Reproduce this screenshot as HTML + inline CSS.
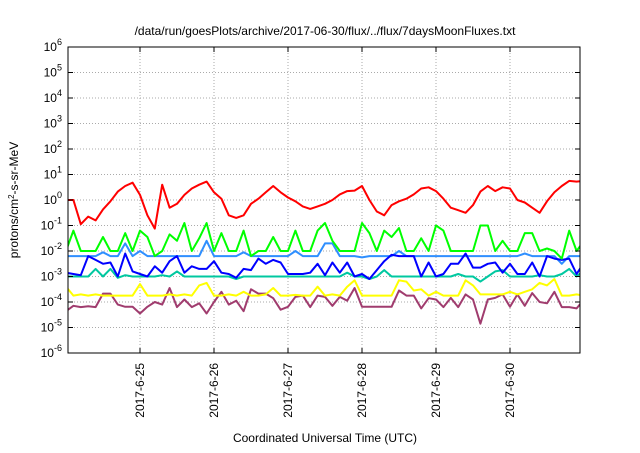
<!DOCTYPE html>
<html><head><meta charset="utf-8"><style>
body{margin:0;background:#fff;width:640px;height:448px;overflow:hidden;font-family:"Liberation Sans",sans-serif}
svg text{font-family:"Liberation Sans",sans-serif;fill:#000}
</style></head><body>
<svg id="chart" width="640" height="448" xmlns="http://www.w3.org/2000/svg">
<text x="325" y="35" font-size="12" text-anchor="middle">/data/run/goesPlots/archive/2017-06-30/flux/../flux/7daysMoonFluxes.txt</text>
<text transform="translate(18,200) rotate(-90)" font-size="12" text-anchor="middle">protons/cm<tspan dy="-4" font-size="8">2</tspan><tspan dy="4">-s-sr-MeV</tspan></text>
<text x="325" y="442" font-size="12" text-anchor="middle">Coordinated Universal Time (UTC)</text>
<g id="grid"></g><g id="series"></g><g id="axes"></g>
</svg>
<script>
const dayTicks = [25, 26, 27, 28, 29, 30];
const dayLabels = ["2017-6-25","2017-6-26","2017-6-27","2017-6-28","2017-6-29","2017-6-30"];
const yExponents = [-6,-5,-4,-3,-2,-1,0,1,2,3,4,5,6];
const startDay = 24.0;
const stepDay = 0.1;
const redLog = [0,0,-0.95,-0.65,-0.8,-0.37,-0.05,0.33,0.55,0.68,0.2,-0.6,-1.12,0.6,-0.3,-0.15,0.2,0.45,0.6,0.72,0.3,0.05,-0.6,-0.7,-0.6,-0.15,0.05,0.3,0.55,0.3,0.1,-0.05,-0.25,-0.35,-0.25,-0.15,0,0.22,0.35,0.37,0.55,0,-0.45,-0.6,-0.2,-0.05,0.05,0.22,0.45,0.5,0.35,0.05,-0.3,-0.4,-0.5,-0.2,0.33,0.55,0.35,0.5,0.45,0,-0.1,-0.3,-0.5,-0.05,0.3,0.55,0.75,0.72,0.75];
const greenLog = [-2,-1.2,-2,-2,-2,-1.45,-2,-2,-1.3,-2,-1.2,-1.45,-2.2,-2,-1.35,-1.6,-0.9,-2,-1.5,-0.9,-2,-1.3,-2,-2,-1.2,-2.2,-2,-2,-1.45,-2,-2,-1.2,-2,-2,-1.2,-0.9,-1.6,-2,-2,-2,-0.9,-1.3,-2,-1.2,-1.45,-1.1,-2,-2,-1.5,-2,-1.0,-1.2,-2,-2,-2,-2,-1.0,-1.0,-2,-1.6,-2,-2,-1.3,-1.3,-2,-1.9,-2,-2.3,-1.2,-2.0,-1.6];
const skyLog = [-2.2,-2.2,-2.2,-2.2,-2.2,-2.05,-2.2,-2.2,-1.7,-2.2,-2.0,-2.2,-2.2,-2.2,-2.2,-2.2,-2.2,-2.2,-2.2,-1.6,-2.2,-2.2,-2.2,-2.2,-2.05,-2.2,-2.2,-2.2,-2.2,-2.2,-2.2,-2.0,-2.2,-2.2,-2.2,-1.7,-1.7,-2.2,-2.2,-2.2,-2.25,-2.2,-2.2,-2.2,-2.2,-2.0,-2.2,-2.2,-2.2,-2.2,-2.2,-2.2,-2.2,-2.2,-2.2,-2.2,-2.2,-2.2,-2.2,-2.2,-2.2,-2.2,-2.1,-2.2,-2.2,-2.2,-2.2,-2.5,-2.2,-2.2,-2.2];
const blueLog = [-2.85,-2.9,-2.95,-2.2,-2.35,-2.5,-2.45,-3.0,-2.1,-2.8,-2.9,-3.0,-2.6,-2.85,-2.4,-2.2,-2.85,-2.6,-2.7,-2.7,-2.4,-2.85,-2.9,-3.05,-2.7,-2.75,-2.3,-2.5,-2.35,-2.45,-2.9,-2.9,-2.9,-2.85,-2.5,-2.95,-2.45,-2.85,-2.45,-3.0,-2.9,-3.1,-2.75,-2.4,-2.15,-2.2,-2.2,-2.2,-3.0,-2.45,-3.0,-2.9,-2.5,-2.5,-2.1,-2.65,-2.65,-2.5,-2.45,-2.85,-2.5,-2.9,-2.9,-2.45,-3.0,-2.2,-2.3,-2.35,-2.3,-2.9,-2.45];
const tealLog = [-3,-3,-3,-3,-2.7,-3,-2.7,-3.05,-2.95,-3,-3,-3,-3,-2.95,-3,-2.8,-3,-3,-3,-3,-3,-3,-3,-3.1,-3,-3,-3,-3,-3,-3,-3,-3,-3,-3,-3,-3,-3,-3,-2.85,-3,-3,-3.1,-3,-2.75,-3,-3,-3,-3,-3,-3,-3,-3,-3,-2.9,-3,-3,-3.2,-3,-2.8,-2.75,-3,-3.0,-3,-3,-2.95,-3,-3,-2.9,-2.7,-3.0,-2.75];
const yellowLog = [-3.4,-3.75,-3.7,-3.75,-3.7,-3.75,-3.75,-3.75,-3.75,-3.75,-3.3,-3.75,-3.75,-3.75,-3.7,-3.75,-3.7,-3.75,-3.35,-3.25,-3.75,-3.75,-3.7,-3.75,-3.6,-3.75,-3.75,-3.7,-3.45,-3.75,-3.75,-3.72,-3.75,-3.75,-3.4,-3.75,-3.7,-3.75,-3.4,-3.15,-3.75,-3.75,-3.75,-3.75,-3.75,-3.15,-3.2,-3.55,-3.5,-3.75,-3.6,-3.75,-3.75,-3.75,-3.15,-3.35,-3.7,-3.7,-3.7,-3.7,-3.6,-3.7,-3.6,-3.5,-3.25,-3.35,-3.1,-3.75,-3.75,-3.7,-3.75];
const purpleLog = [-4.36,-4.15,-4.2,-4.17,-4.2,-3.67,-3.67,-4.1,-4.19,-4.19,-4.45,-4.19,-4.0,-4.1,-3.45,-4.2,-3.9,-4.2,-4.05,-4.45,-4.0,-3.6,-4.1,-3.95,-4.36,-3.5,-3.67,-3.67,-3.85,-4.3,-4.19,-3.8,-3.75,-4.2,-3.75,-3.8,-4.15,-3.8,-3.95,-3.45,-4.19,-4.19,-4.19,-4.19,-4.19,-3.55,-3.75,-3.75,-4.25,-3.85,-3.9,-4.2,-3.84,-4.2,-3.7,-3.9,-4.85,-3.9,-3.84,-3.7,-4.19,-3.7,-4.15,-3.65,-4.0,-4.05,-3.6,-4.2,-4.2,-4.25,-3.9];

const L=68,R=580,T=47,B=353;
const NS="http://www.w3.org/2000/svg";
const xScale = d => 66 + (d-24)*74;
const yScale = e => T + (6-e)*(B-T)/12;
function mk(tag, attrs, parent){const el=document.createElementNS(NS,tag);for(const k in attrs)el.setAttribute(k,attrs[k]);parent.appendChild(el);return el;}
const grid=document.getElementById('grid'), axes=document.getElementById('axes'), ser=document.getElementById('series');
yExponents.forEach(e=>{
  const y=yScale(e);
  if(e>-6&&e<6){const g=mk('line',{x1:L,x2:R,y1:y,y2:y,stroke:'#aaa','stroke-width':1,'stroke-dasharray':'1,2'},grid);
  
  }
  const tk=mk('line',{x1:L,x2:L+5,y1:y,y2:y,stroke:'#000'},axes);
  
  
  const tk2=mk('line',{x1:R-5,x2:R,y1:y,y2:y,stroke:'#000'},axes);
  
  
  const t=mk('text',{x:62,y:y+4,'font-size':12,'text-anchor':'end'},axes);
  
  
  t.innerHTML='10<tspan dy="-6" font-size="9">'+e+'</tspan>';
});
dayTicks.forEach((d,i)=>{
  const x=xScale(d);
  const g=mk('line',{x1:x,x2:x,y1:T,y2:B,stroke:'#aaa','stroke-width':1,'stroke-dasharray':'1,2'},grid);
  
  
  const tk=mk('line',{x1:x,x2:x,y1:B-5,y2:B,stroke:'#000'},axes);
  
  
  const tk2=mk('line',{x1:x,x2:x,y1:T,y2:T+5,stroke:'#000'},axes);
  
  
  const t=mk('text',{transform:`translate(${x+4},${B+10}) rotate(-90)`,'font-size':12,'text-anchor':'end'},axes);
  
  
  t.textContent=dayLabels[i];
});
const frame=mk('rect',{x:L,y:T,width:R-L,height:B-T,fill:'none',stroke:'#000','stroke-width':1},axes);


mk('clipPath',{id:'clip'},ser.parentNode).appendChild(Object.assign(document.createElementNS(NS,'rect'),{}));
document.querySelector('#clip rect').setAttribute('x',L);document.querySelector('#clip rect').setAttribute('y',T);
document.querySelector('#clip rect').setAttribute('width',R-L);document.querySelector('#clip rect').setAttribute('height',B-T);
ser.setAttribute('clip-path','url(#clip)');
const seriesList=[[purpleLog,'#a03c6e','purple'],[yellowLog,'#ffff00','yellow'],[tealLog,'#00c8a0','teal'],[skyLog,'#2f8fff','light-blue'],[blueLog,'#0000ff','blue'],[greenLog,'#00ff00','green'],[redLog,'#ff0000','red']];
seriesList.forEach(([vals,col,nm])=>{
  const pts=vals.map((v,k)=>xScale(startDay+k*stepDay).toFixed(1)+','+yScale(v).toFixed(1)).join(' ');
  const p=mk('polyline',{points:pts,fill:'none',stroke:col,'stroke-width':2,'stroke-linejoin':'round'},ser);
  
  
});
</script>
</body></html>
